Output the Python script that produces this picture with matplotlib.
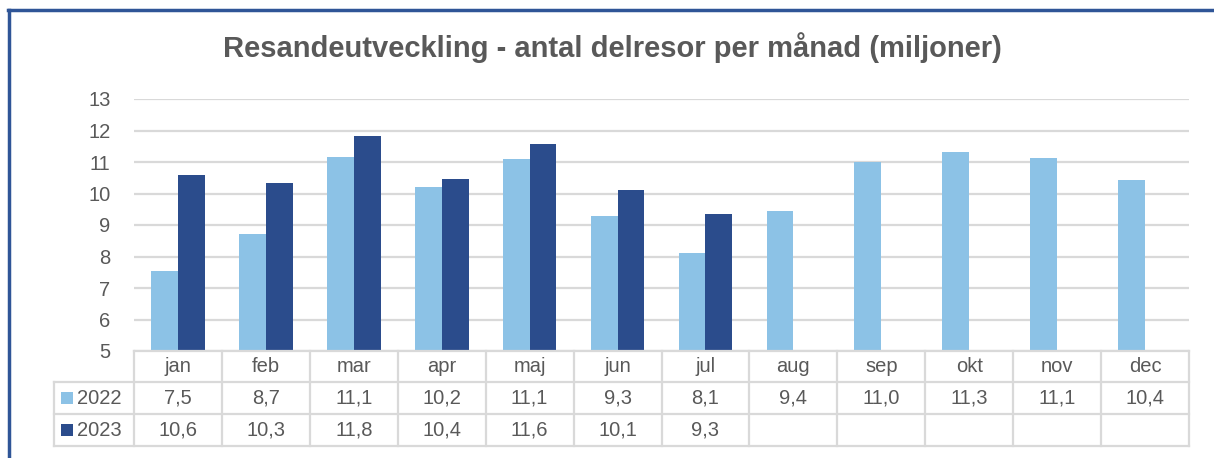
import matplotlib
matplotlib.use('Agg')
import matplotlib.pyplot as plt
from matplotlib.lines import Line2D
from matplotlib.patches import Rectangle
import numpy as np

# Data
months = ['jan', 'feb', 'mar', 'apr', 'maj', 'jun', 'jul', 'aug', 'sep', 'okt', 'nov', 'dec']
series_names = ['2022', '2023']
values_2022 = [7.54, 8.70, 11.17, 10.21, 11.11, 9.30, 8.10, 9.45, 10.99, 11.32, 11.12, 10.44]
values_2023 = [10.58, 10.34, 11.84, 10.45, 11.58, 10.10, 9.35]
labels_2022 = ['7,5', '8,7', '11,1', '10,2', '11,1', '9,3', '8,1', '9,4', '11,0', '11,3', '11,1', '10,4']
labels_2023 = ['10,6', '10,3', '11,8', '10,4', '11,6', '10,1', '9,3']
y_ticks = [5, 6, 7, 8, 9, 10, 11, 12, 13]

title = 'Resandeutveckling - antal delresor per månad (miljoner)'

c22 = '#8CC2E6'
c23 = '#2B4C8C'
grid_c = '#D9D9D9'
text_c = '#595959'
border_c = '#2F5597'
fs = 14.5

W, H = 1214, 458
fig = plt.figure(figsize=(W / 100, H / 100), dpi=100)
plt.rcParams['font.family'] = ['Liberation Sans', 'DejaVu Sans']


def px(x, y):
    return x / W, 1 - y / H


# plot area in pixels
left, right, top, bottom = 134, 1189, 99, 351
ax = fig.add_axes([left / W, 1 - bottom / H, (right - left) / W, (bottom - top) / H])
n = len(months)
x = np.arange(n)
bw = 0.305
ax.bar(x[:len(values_2022)] - bw / 2, np.array(values_2022) - 5, bw, bottom=5, color=c22, zorder=3)
ax.bar(x[:len(values_2023)] + bw / 2, np.array(values_2023) - 5, bw, bottom=5, color=c23, zorder=3)
ax.set_xlim(-0.5, n - 0.5)
ax.set_ylim(5, 13)
ax.set_yticks(y_ticks)
ax.set_yticklabels([str(t) for t in y_ticks], fontsize=fs, color=text_c)
ax.tick_params(axis='y', length=0, pad=17)
ax.set_xticks([])
ax.grid(axis='y', color=grid_c, linewidth=1.6, zorder=0)
for s in ax.spines.values():
    s.set_visible(False)

# title
tx, ty = px(612, 48)
fig.text(tx, ty, title, ha='center', va='center', fontsize=21, fontweight='bold',
         color=text_c, family=['Liberation Sans Narrow', 'Liberation Sans', 'DejaVu Sans'])

# data table
col_w = (right - left) / n
row_y = [351, 382, 414, 446]


def hline(x0, x1, y):
    a, b = px(x0, y)
    c, d = px(x1, y)
    fig.add_artist(Line2D([a, c], [b, d], color=grid_c, linewidth=1.6))


def vline(xp, y0, y1):
    a, b = px(xp, y0)
    c, d = px(xp, y1)
    fig.add_artist(Line2D([a, c], [b, d], color=grid_c, linewidth=1.6))


hline(left, right, row_y[0])
for yy in row_y[1:]:
    hline(54, right, yy)
vline(54, row_y[1], row_y[3])
for i in range(n + 1):
    vline(left + i * col_w, row_y[0], row_y[3])

for i, m in enumerate(months):
    cx = left + (i + 0.5) * col_w
    fig.text(*px(cx, (row_y[0] + row_y[1]) / 2), m, ha='center', va='center',
             fontsize=fs, color=text_c)
for i, lab in enumerate(labels_2022):
    cx = left + (i + 0.5) * col_w
    fig.text(*px(cx, (row_y[1] + row_y[2]) / 2), lab, ha='center', va='center',
             fontsize=fs, color=text_c)
for i, lab in enumerate(labels_2023):
    cx = left + (i + 0.5) * col_w
    fig.text(*px(cx, (row_y[2] + row_y[3]) / 2), lab, ha='center', va='center',
             fontsize=fs, color=text_c)

# legend keys in the table
for name, col, r in [(series_names[0], c22, 1), (series_names[1], c23, 2)]:
    yc = (row_y[r] + row_y[r + 1]) / 2
    sx, sy = px(61, yc + 6)
    fig.add_artist(Rectangle((sx, sy), 12 / W, 12 / H, transform=fig.transFigure,
                             color=col, linewidth=0))
    fig.text(*px(77, yc), name, ha='left', va='center', fontsize=fs, color=text_c)

# blue frame on top and left
fig.add_artist(Line2D([8 / W, 1], [1 - 10 / H] * 2, color=border_c, linewidth=2.5))
fig.add_artist(Line2D([9 / W] * 2, [0, 1 - 10 / H], color=border_c, linewidth=2.5))

fig.savefig('out.png', dpi=100)
